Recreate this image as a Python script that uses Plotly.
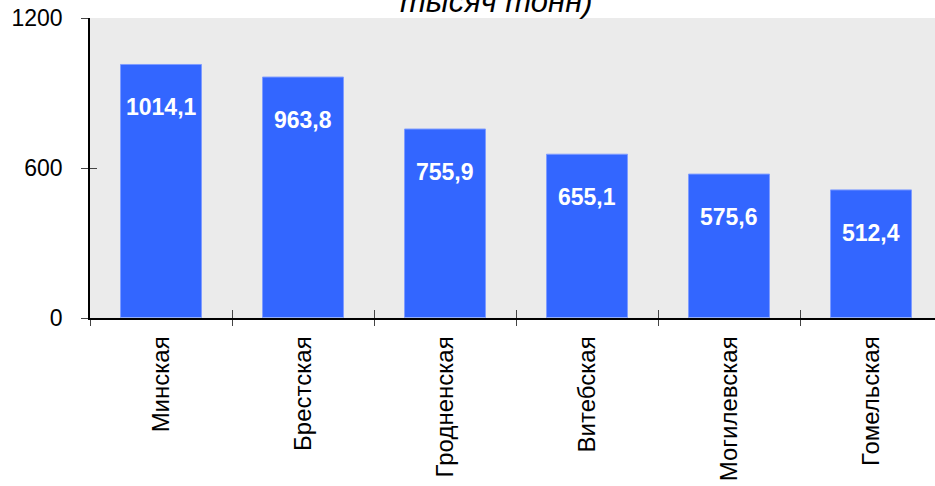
import plotly.graph_objects as go

categories = ["Минская", "Брестская", "Гродненская", "Витебская", "Могилевская", "Гомельская"]
values = [1014.1, 963.8, 755.9, 655.1, 575.6, 512.4]
value_labels = ["1014,1", "963,8", "755,9", "655,1", "575,6", "512,4"]
y_ticks = [0, 600, 1200]
title_tail = "тысяч тонн)"

FONT = "Liberation Sans, Arial, sans-serif"

fig = go.Figure()
fig.add_trace(go.Bar(
    x=categories, y=values,
    marker=dict(color="#3366FF", line=dict(color="#7F9CFF", width=1)),
    hoverinfo="skip",
))
# invisible trace on overlay axes for the inner half of the crossing ticks
fig.add_trace(go.Bar(x=categories, y=[0]*len(categories), xaxis="x2", yaxis="y2",
                     marker=dict(color="rgba(0,0,0,0)"), showlegend=False, hoverinfo="skip"))

for c, v, t in zip(categories, values, value_labels):
    fig.add_annotation(x=c, y=v, text=t, showarrow=False, yanchor="middle", yshift=-43,
                       font=dict(family=FONT, size=23, color="white", weight="bold"))

fig.add_annotation(xref="paper", yref="paper", x=0.477, y=1, xanchor="center", yanchor="bottom",
                   yshift=-3, text="<i>" + title_tail + "</i>", showarrow=False,
                   font=dict(family=FONT, size=31, color="black"))

fig.update_layout(
    width=942, height=486,
    margin=dict(l=90, r=0, t=18, b=168),
    paper_bgcolor="white", plot_bgcolor="#EBEBEB",
    showlegend=False, bargap=0.43,
    font=dict(family=FONT, color="black"),
    xaxis=dict(showline=True, linecolor="black", linewidth=1.5, ticks="outside", ticklen=6,
               tickcolor="#444", tickson="boundaries", tickangle=-90, automargin=False,
               tickfont=dict(size=24, family=FONT), ticklabelstandoff=7, showgrid=False,
               zeroline=False),
    yaxis=dict(range=[0, 1200], tickvals=y_ticks, showline=True, linecolor="black", linewidth=1.5,
               ticks="outside", ticklen=7, tickcolor="#444", tickfont=dict(size=23, family=FONT),
               showgrid=False, zeroline=False, ticklabelstandoff=14, automargin=False,
               ticklabeloverflow="allow"),
    xaxis2=dict(overlaying="x", matches="x", ticks="inside", ticklen=8, tickcolor="#444",
                tickson="boundaries", showticklabels=False, showgrid=False, zeroline=False,
                showline=False, automargin=False),
    yaxis2=dict(overlaying="y", range=[0, 1200], tickvals=y_ticks, ticks="inside", ticklen=7,
                tickcolor="#444", showticklabels=False, showgrid=False, zeroline=False,
                showline=False, automargin=False),
)

fig.write_html("out.html", config={"displayModeBar": False},
               post_script="document.body.style.margin='0';document.body.style.overflow='hidden';")
